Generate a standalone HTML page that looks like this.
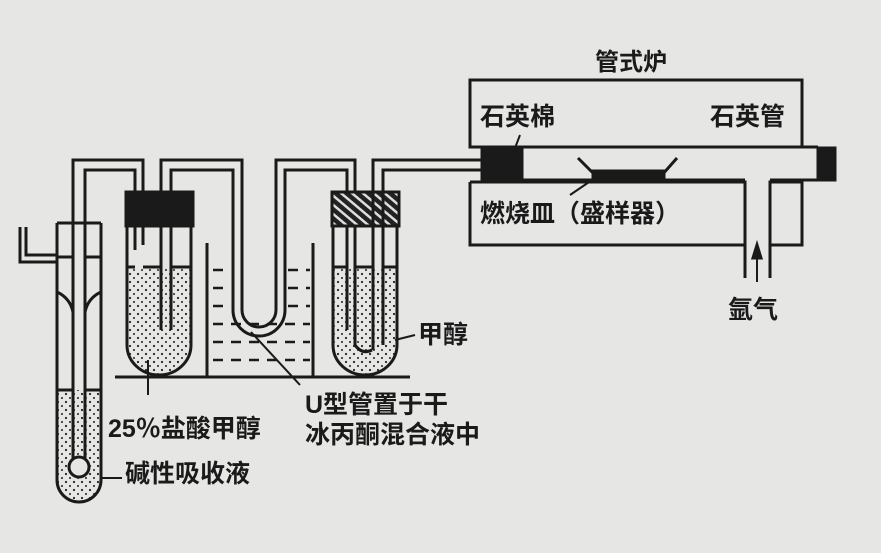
<!DOCTYPE html>
<html><head><meta charset="utf-8"><style>
html,body{margin:0;padding:0;background:#e6e6e4;}
svg{display:block}
text{font-family:"Liberation Sans","Noto Sans CJK SC",sans-serif;fill:#1a1a1a;font-weight:bold}
</style></head><body>
<svg width="881" height="553" viewBox="0 0 881 553" xmlns="http://www.w3.org/2000/svg">
<defs>
<pattern id="dots" width="8" height="8" patternUnits="userSpaceOnUse">
<circle cx="2" cy="2" r="1.1" fill="#222"/><circle cx="6" cy="6" r="1" fill="#222"/>
</pattern>
<pattern id="hatch" width="7" height="7" patternUnits="userSpaceOnUse" patternTransform="rotate(-50)">
<rect width="7" height="7" fill="#222"/><rect x="0" y="0" width="2.5" height="7" fill="#ddd"/>
</pattern>
</defs>
<rect width="881" height="553" fill="#e6e6e4"/>
<g fill="none" stroke="#1a1a1a" stroke-width="3">

<!-- liquids -->
<path d="M57 390 V480 A22 22 0 0 0 101 480 V390 Z" fill="url(#dots)" stroke="none"/>
<path d="M127 267 V345 A32 30 0 0 0 191 345 V267 Z" fill="url(#dots)" stroke="none"/>
<path d="M333 267 V345 A32 30 0 0 0 397 345 V267 Z" fill="url(#dots)" stroke="none"/>

<!-- absorber -->
<path d="M57 223 H101 M57 223 V480 A22 22 0 0 0 101 480 V223"/>
<path d="M57 257 H73 M85 257 H101"/>
<path d="M57 292 Q70 298 73 312 M101 292 Q88 298 85 312"/>
<path d="M57 390 H73 M85 390 H101"/>
<path d="M20 227 V262 H57 M26 227 V255 H57"/>
<circle cx="79" cy="467" r="10" fill="#e6e6e4"/>
<path d="M73 458 V160 H143 V245"/>
<path d="M85 458 V170 H135 V250"/>

<!-- U1 -->
<path d="M127 195 V345 A32 30 0 0 0 191 345 V195"/>
<rect x="126" y="192" width="67" height="34" fill="#1a1a1a"/>
<path d="M127 267 H135 M143 267 H161 M171 267 H191"/>
<path d="M171 330 V170 H233 V310 A26 26 0 0 0 285 310 V170 H347 V330"/>
<path d="M161 330 V160 H242 V310 A17 17 0 0 0 276 310 V160 H355 V260"/>

<!-- beaker -->
<path d="M207 243 V377 M313 243 V377"/>
<path d="M115 377 H410"/>
<g stroke-width="2.5" stroke-dasharray="10 8">
<path d="M213 270 H230 M288 270 H310 M213 288 H230 M288 288 H310 M213 306 H230 M288 306 H310 M213 324 H310 M213 342 H310 M213 360 H310"/>
</g>
<path d="M251 332 L300 385" stroke-width="2"/>

<!-- U3 -->
<path d="M333 195 V345 A32 30 0 0 0 397 345 V195"/>
<rect x="332" y="192" width="67" height="34" fill="url(#hatch)"/>
<path d="M333 267 H347 M355 267 H373 M383 267 H397"/>
<path d="M373 350 V160 H490 M383 345 V170 H490"/>
<path d="M355 260 V345 Q362 355 372 350"/>
<path d="M395 340 L415 335" stroke-width="2"/>
<path d="M148 360 V395" stroke-width="2"/>
<path d="M100 478 H122" stroke-width="2"/>

<!-- furnace -->
<path d="M470 80 H802 V147 H470 Z"/>
<path d="M470 182 H745 V278 M770 278 V182 H802 V245 H770"/>
<path d="M470 182 V245 H745"/>
<path d="M470 147 H818 M490 180 H745 M770 180 H818"/>
<rect x="818" y="148" width="17" height="32" fill="#1a1a1a"/>
<path d="M482 148 H522 V182 H482 Z" fill="#1a1a1a"/>
<path d="M515 148 L520 135" stroke-width="2"/>
<path d="M578 158 L595 175 H662 L677 158" stroke-width="3"/>
<path d="M593 171 H664 V179 H593 Z" fill="#1a1a1a"/>
<path d="M595 178 L570 195" stroke-width="2"/>
<path d="M757 250 V282" stroke-width="2"/>
<path d="M753 258 L757 245 L761 258 Z" fill="#1a1a1a"/>
</g>

<text x="595" y="70" font-size="24">管式炉</text>
<text x="480" y="125" font-size="25">石英棉</text>
<text x="710" y="125" font-size="25">石英管</text>
<text x="480" y="222" font-size="25">燃烧皿（盛样器）</text>
<text x="728" y="318" font-size="25">氩气</text>
<text x="418" y="343" font-size="25">甲醇</text>
<text x="305" y="413" font-size="25">U型管置于干</text>
<text x="305" y="443" font-size="25">冰丙酮混合液中</text>
<text x="108" y="437" font-size="25">25％盐酸甲醇</text>
<text x="125" y="482" font-size="25">碱性吸收液</text>
</svg>
</body></html>
